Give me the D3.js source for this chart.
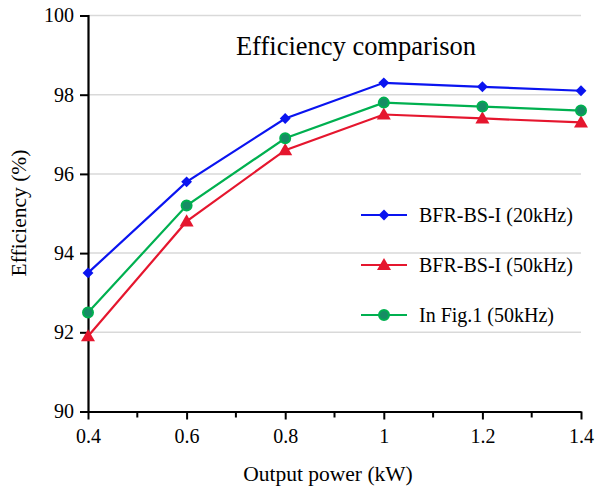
<!DOCTYPE html>
<html lang="en">
<head>
    <meta charset="utf-8">
    <title>Efficiency comparison</title>
    <script type="text/javascript" src="https://d3js.org/d3.v7.min.js"></script>
    <style type="text/css">
        body { margin: 0; background: white; }
        text { font-family: "Liberation Serif", "Times New Roman", serif; fill: black; }
    </style>
</head>
<body>
<div id="chart"></div>
<script type="text/javascript">

    //Data
    var power = [0.4, 0.6, 0.8, 1.0, 1.2, 1.4];
    var eff20k = [93.5, 95.8, 97.4, 98.3, 98.2, 98.1];
    var eff50k = [91.9, 94.8, 96.6, 97.5, 97.4, 97.3];
    var effFig1 = [92.5, 95.2, 96.9, 97.8, 97.7, 97.6];
    var seriesNames = ["BFR-BS-I (20kHz)", "BFR-BS-I (50kHz)", "In Fig.1 (50kHz)"];
    var yTicks = [90, 92, 94, 96, 98, 100];
    var xTicks = [0.4, 0.6, 0.8, 1.0, 1.2, 1.4];
    var xMinor = [0.5, 0.7, 0.9, 1.1, 1.3];

    var w = 597, h = 493;
    var plotLeft = 88, plotRight = 581, plotTop = 15.5, plotBottom = 411.5;

    var series = [
        { name: seriesNames[0], values: eff20k, color: "#0a14f0", shape: "diamond" },
        { name: seriesNames[1], values: eff50k, color: "#e5162e", shape: "triangle" },
        { name: seriesNames[2], values: effFig1, color: "#00b050", shape: "circle" }
    ];

    var x = d3.scaleLinear().domain([0.4, 1.4]).range([plotLeft, plotRight]);
    var y = d3.scaleLinear().domain([90, 100]).range([plotBottom, plotTop]);

    var svg = d3.select("#chart").append("svg")
        .attr("width", w)
        .attr("height", h);

    //Gridlines
    svg.append("g").selectAll("line")
        .data(yTicks.slice(1))
        .enter().append("line")
        .attr("x1", plotLeft).attr("x2", plotRight)
        .attr("y1", function (d) { return y(d); })
        .attr("y2", function (d) { return y(d); })
        .attr("stroke", "#d9d9d9")
        .attr("stroke-width", 1.5);

    //Y axis
    var yAxis = svg.append("g")
        .attr("transform", "translate(" + plotLeft + ",0)")
        .call(d3.axisLeft(y).tickValues(yTicks).tickSize(8).tickPadding(6).tickFormat(d3.format("d")));
    yAxis.select(".domain").attr("stroke-width", 2.2);
    yAxis.selectAll(".tick line").attr("stroke-width", 2);
    yAxis.selectAll("text").style("font-size", "20px").style("font-family", "Liberation Serif");

    //X axis minor ticks
    svg.append("g").selectAll("line")
        .data(xMinor)
        .enter().append("line")
        .attr("x1", function (d) { return x(d); })
        .attr("x2", function (d) { return x(d); })
        .attr("y1", plotBottom).attr("y2", plotBottom + 6)
        .attr("stroke", "black").attr("stroke-width", 2);

    //X axis
    var xAxis = svg.append("g")
        .attr("transform", "translate(0," + plotBottom + ")")
        .call(d3.axisBottom(x).tickValues(xTicks).tickSize(8).tickSizeOuter(0).tickPadding(9)
            .tickFormat(function (d) { return d3.format("~g")(d); }));
    xAxis.select(".domain").attr("stroke-width", 2);
    xAxis.selectAll(".tick line").attr("stroke-width", 2);
    xAxis.selectAll("text").style("font-size", "20px").style("font-family", "Liberation Serif");

    //Axis titles
    svg.append("text")
        .attr("x", 328).attr("y", 481)
        .attr("text-anchor", "middle")
        .style("font-size", "21.5px")
        .text("Output power (kW)");

    svg.append("text")
        .attr("transform", "translate(26," + 213 + ") rotate(-90)")
        .attr("text-anchor", "middle")
        .style("font-size", "21.5px")
        .text("Efficiency (%)");

    //Chart title
    svg.append("text")
        .attr("x", 356).attr("y", 55)
        .attr("text-anchor", "middle")
        .style("font-size", "26.5px")
        .text("Efficiency comparison");

    //Markers
    function drawMarker(g, shape, color, cx, cy) {
        if (shape === "diamond") {
            g.append("path")
                .attr("d", d3.symbol().type(d3.symbolDiamond2).size(75)())
                .attr("transform", "translate(" + cx + "," + cy + ")")
                .attr("fill", color);
        } else if (shape === "triangle") {
            g.append("path")
                .attr("d", d3.symbol().type(d3.symbolTriangle).size(85)())
                .attr("transform", "translate(" + cx + "," + (cy + 1) + ")")
                .attr("fill", color);
        } else {
            g.append("circle")
                .attr("cx", cx).attr("cy", cy).attr("r", 5)
                .attr("fill", "#168c64")
                .attr("stroke", color).attr("stroke-width", 2);
        }
    }

    var line = d3.line()
        .x(function (d, i) { return x(power[i]); })
        .y(function (d) { return y(d); });

    series.forEach(function (s) {
        var g = svg.append("g");
        g.append("path")
            .attr("d", line(s.values))
            .attr("fill", "none")
            .attr("stroke", s.color)
            .attr("stroke-width", 2.2);
        s.values.forEach(function (v, i) {
            drawMarker(g, s.shape, s.color, x(power[i]), y(v));
        });
    });

    //Legend
    var legendY = [215, 265, 315];
    series.forEach(function (s, i) {
        var g = svg.append("g");
        g.append("line")
            .attr("x1", 361).attr("x2", 407)
            .attr("y1", legendY[i]).attr("y2", legendY[i])
            .attr("stroke", s.color).attr("stroke-width", 2.2);
        drawMarker(g, s.shape, s.color, 384, legendY[i]);
        g.append("text")
            .attr("x", 419).attr("y", legendY[i] + 7)
            .style("font-size", "20px")
            .text(s.name);
    });

</script>
</body>
</html>
